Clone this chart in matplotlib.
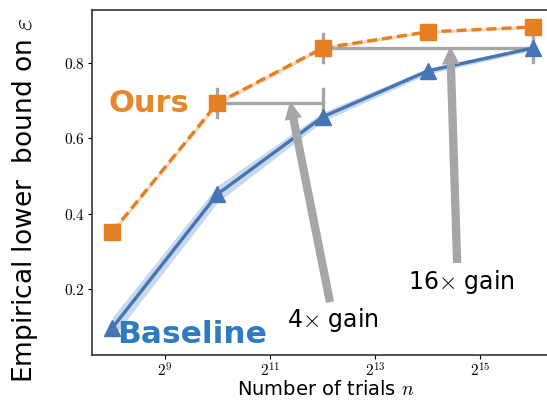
import numpy as np
import matplotlib
matplotlib.use("Agg")
import matplotlib.pyplot as plt
from matplotlib.patches import FancyArrowPatch

plt.rcParams['mathtext.fontset'] = 'cm'

# datos
log_trials = [8, 10, 12, 14, 16]
ours = [0.352, 0.694, 0.840, 0.883, 0.896]
ours_err = [0.006, 0.006, 0.005, 0.004, 0.004]
baseline = [0.097, 0.452, 0.657, 0.779, 0.840]
baseline_err = [0.028, 0.022, 0.012, 0.008, 0.006]
xticks_pow = [9, 11, 13, 15]
yticks = [0.2, 0.4, 0.6, 0.8]

n = 2.0 ** np.array(log_trials)
ours = np.array(ours)
baseline = np.array(baseline)

orange = '#e67e22'
blue = '#4575b4'
gray = '#a6a6a6'

fig = plt.figure(figsize=(5.47, 4.01), dpi=100)
ax = fig.add_axes([0.168, 0.115, 0.856, 0.86])

# bandas
ax.fill_between(n, baseline - baseline_err, baseline + baseline_err,
                color='#c9d8ea', lw=0)
ax.fill_between(n, ours - ours_err, ours + ours_err, color='#f8d5b8', lw=0)

ax.plot(n, baseline, color=blue, lw=2.4, marker='^', ms=12, zorder=3)
ax.plot(n, ours, color=orange, lw=2.4, ls=(0, (3, 1.5)), marker='s', ms=11,
        zorder=3)

# lineas de ganancia (horizontal con topes)
for i0, i1 in [(1, 2), (2, 4)]:
    y = ours[i0]
    ax.plot([n[i0], n[i1]], [y, y], color=gray, lw=2.4, zorder=2.5)
    for xx in (n[i0], n[i1]):
        ax.plot([xx, xx], [y - 0.037, y + 0.037], color=gray, lw=2.4,
                zorder=2.5)

# flechas
for tail, head in [((2 ** 12.14, 0.165), (2 ** 11.38, ours[1] + 0.004)),
                   ((2 ** 14.56, 0.269), (2 ** 14.43, ours[2] + 0.004))]:
    arr = FancyArrowPatch(tail, head,
                          arrowstyle='simple,head_width=1.6,head_length=1.6,tail_width=0.75',
                          mutation_scale=8, color=gray, lw=0, zorder=4,
                          shrinkA=0, shrinkB=0)
    ax.add_patch(arr)

ax.text(2 ** 11.32, 0.118, '4$\\times$ gain', fontsize=17, ha='left',
        va='center')
ax.text(2 ** 13.63, 0.219, '16$\\times$ gain', fontsize=17, ha='left',
        va='center')
ax.text(2 ** 8.7, 0.692, 'Ours', color='#e8862a', fontsize=22,
        fontweight='bold', ha='center', va='center')
ax.text(2 ** 9.52, 0.08, 'Baseline', color='#2e7bc0', fontsize=22.5,
        fontweight='bold', ha='center', va='center', zorder=5)

ax.set_xscale('log', base=2)
ax.set_xlim(2 ** 7.61, 2 ** 16.52)
ax.set_ylim(0.025, 0.941)
ax.set_xticks([2 ** p for p in xticks_pow])
ax.set_xticklabels(['$2^{%d}$' % p for p in xticks_pow])
ax.minorticks_off()
ax.set_yticks(yticks)
ax.set_yticklabels(['$%.1f$' % v for v in yticks])
ax.tick_params(labelsize=11, length=3, width=0.8, pad=2)

for s in ax.spines.values():
    s.set_linewidth(1.2)
    s.set_color('#333333')

ax.set_xlabel('Number of trials $n$', fontsize=14, labelpad=0)
fig.text(0.046, 0.5, 'Empirical lower  bound on $\\varepsilon$', fontsize=19,
         rotation=90, ha='center', va='center')

fig.savefig('out.png', dpi=100)
